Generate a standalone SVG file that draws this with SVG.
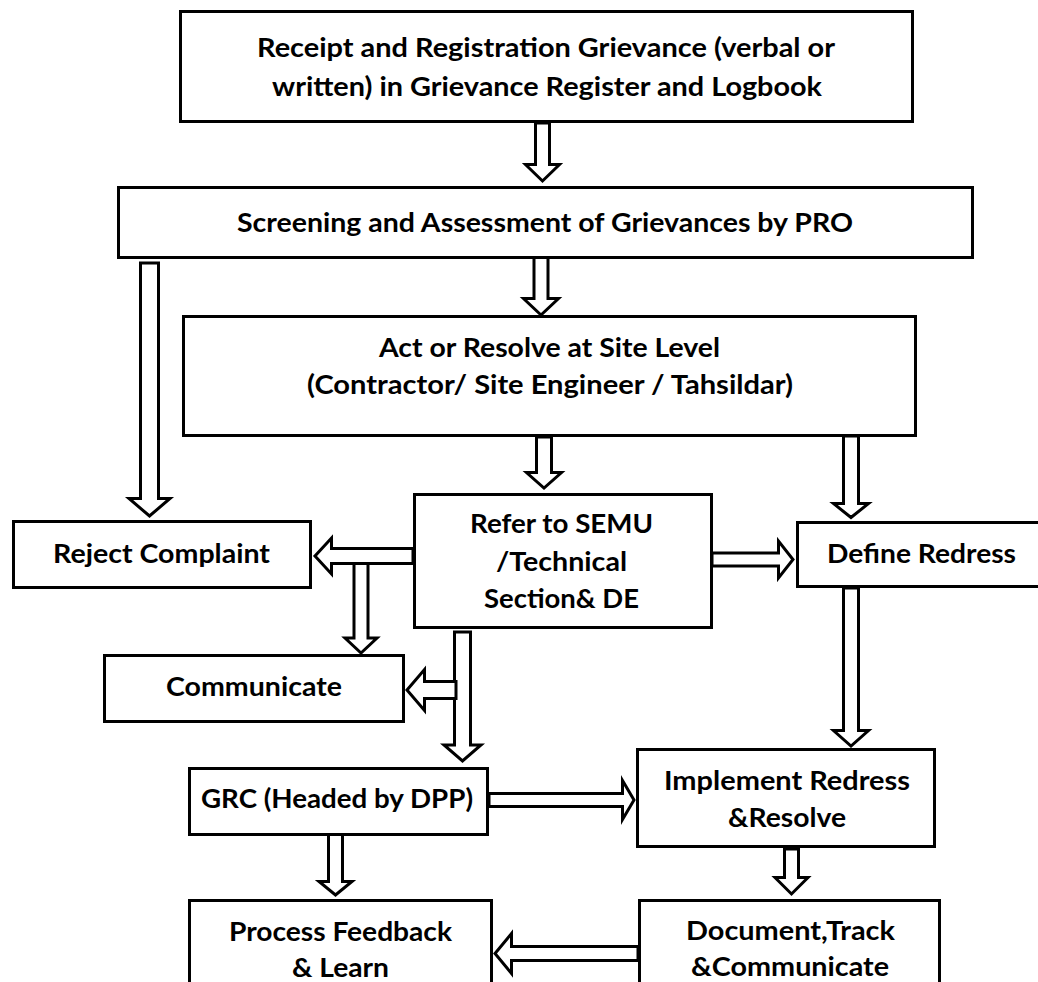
<svg xmlns="http://www.w3.org/2000/svg" width="1038" height="982" viewBox="0 0 1038 982">
<style>
.box{fill:#fff;stroke:#000;stroke-width:3}
.arr{fill:#fff;stroke:#000;stroke-width:3;stroke-linejoin:miter}
text{font-family:Lato,"Liberation Sans",sans-serif;font-weight:bold;font-size:27px;fill:#000;text-anchor:middle}
</style>
<rect width="1038" height="982" fill="#fff"/>
<g id="connectors">
<path class="arr" d="M535.5,123 V164.5 H525.5 L542.5,181 L559.5,164.5 H549.5 V123 Z"/>
<path class="arr" d="M534,256 V298.5 H523.5 L541,315 L558.5,298.5 H548 V256 Z"/>
<path class="arr" d="M536.5,437 V472.5 H526.5 L544,488 L561.5,472.5 H551.5 V437 Z"/>
<path class="arr" d="M843.5,436 V503.5 H833.5 L851,517.5 L868.5,503.5 H858.5 V436 Z"/>
<path class="arr" d="M140.5,263 V498.5 H129 L149.5,516 L170,498.5 H158.5 V263 Z"/>
<path class="arr" d="M843.5,588 V730.5 H833.5 L851,746 L868.5,730.5 H858.5 V588 Z"/>
<path class="arr" d="M454.5,632 V745 H444 L462.5,761 L481,745 H470.5 V632 Z"/>
<path class="arr" d="M354,563 V638 H345 L361,653 L377,638 H368 V563 Z"/>
<path class="arr" d="M328.5,834 V881.5 H319 L335.5,895 L352,881.5 H342.5 V834 Z"/>
<path class="arr" d="M784.5,849 V877.5 H775 L791.5,894 L808,877.5 H798.5 V849 Z"/>
<path class="arr" d="M413,548.5 H331.5 V538 L315,556 L331.5,574 V563.5 H413 Z"/>
<path class="arr" d="M712,553 H778.5 V541 L793,559.5 L778.5,578 V566 H712 Z"/>
<path class="arr" d="M456,681.5 H424.5 V669.5 L407,690 L424.5,710.5 V698.5 H456 Z"/>
<path class="arr" d="M489,793.5 H622.5 V780.5 L634,800 L622.5,819.5 V806.5 H489 Z"/>
<path class="arr" d="M638,946.5 H511.5 V933.5 L495,953.5 L511.5,973.5 V960.5 H638 Z"/>
</g>
<g id="n-receipt">
<rect class="box" x="180.5" y="11.5" width="732" height="110"/>
<text x="546" y="57" textLength="578" lengthAdjust="spacingAndGlyphs">Receipt and Registration Grievance (verbal or</text>
<text x="547" y="96" textLength="550" lengthAdjust="spacingAndGlyphs">written) in Grievance Register and Logbook</text>
</g>
<g id="n-screening">
<rect class="box" x="118.5" y="187.5" width="854" height="70"/>
<text x="545" y="232" textLength="616" lengthAdjust="spacingAndGlyphs">Screening and Assessment of Grievances by PRO</text>
</g>
<g id="n-act">
<rect class="box" x="183.5" y="316.5" width="732" height="119"/>
<text x="549.5" y="357" textLength="341" lengthAdjust="spacingAndGlyphs">Act or Resolve at Site Level</text>
<text x="550" y="394" textLength="486" lengthAdjust="spacingAndGlyphs">(Contractor/ Site Engineer / Tahsildar)</text>
</g>
<g id="n-reject">
<rect class="box" x="13.5" y="521.5" width="297" height="66"/>
<text x="161.5" y="563" textLength="217" lengthAdjust="spacingAndGlyphs">Reject Complaint</text>
</g>
<g id="n-refer">
<rect class="box" x="414.5" y="494.5" width="297" height="133"/>
<text x="561.5" y="533" textLength="183" lengthAdjust="spacingAndGlyphs">Refer to SEMU</text>
<text x="561.5" y="571" textLength="131" lengthAdjust="spacingAndGlyphs">/Technical</text>
<text x="561.5" y="608" textLength="155" lengthAdjust="spacingAndGlyphs">Section&amp; DE</text>
</g>
<g id="n-define">
<rect class="box" x="797.5" y="522.5" width="250" height="64"/>
<text x="921.5" y="563" textLength="189" lengthAdjust="spacingAndGlyphs">Define Redress</text>
</g>
<g id="n-communicate">
<rect class="box" x="104.5" y="655.5" width="299" height="66"/>
<text x="254" y="696" textLength="176" lengthAdjust="spacingAndGlyphs">Communicate</text>
</g>
<g id="n-grc">
<rect class="box" x="189.5" y="768.5" width="298" height="66"/>
<text x="337" y="808" textLength="272" lengthAdjust="spacingAndGlyphs">GRC (Headed by DPP)</text>
</g>
<g id="n-implement">
<rect class="box" x="637.5" y="749.5" width="297" height="97"/>
<text x="787" y="790" textLength="246" lengthAdjust="spacingAndGlyphs">Implement Redress</text>
<text x="787" y="827" textLength="118" lengthAdjust="spacingAndGlyphs">&amp;Resolve</text>
</g>
<g id="n-process">
<rect class="box" x="189.5" y="900.5" width="302" height="100"/>
<text x="340.5" y="941" textLength="223" lengthAdjust="spacingAndGlyphs">Process Feedback</text>
<text x="340.5" y="977" textLength="97" lengthAdjust="spacingAndGlyphs">&amp; Learn</text>
</g>
<g id="n-document">
<rect class="box" x="639.5" y="900.5" width="300" height="100"/>
<text x="790.5" y="940" textLength="209" lengthAdjust="spacingAndGlyphs">Document,Track</text>
<text x="790" y="976" textLength="198" lengthAdjust="spacingAndGlyphs">&amp;Communicate</text>
</g>
</svg>
